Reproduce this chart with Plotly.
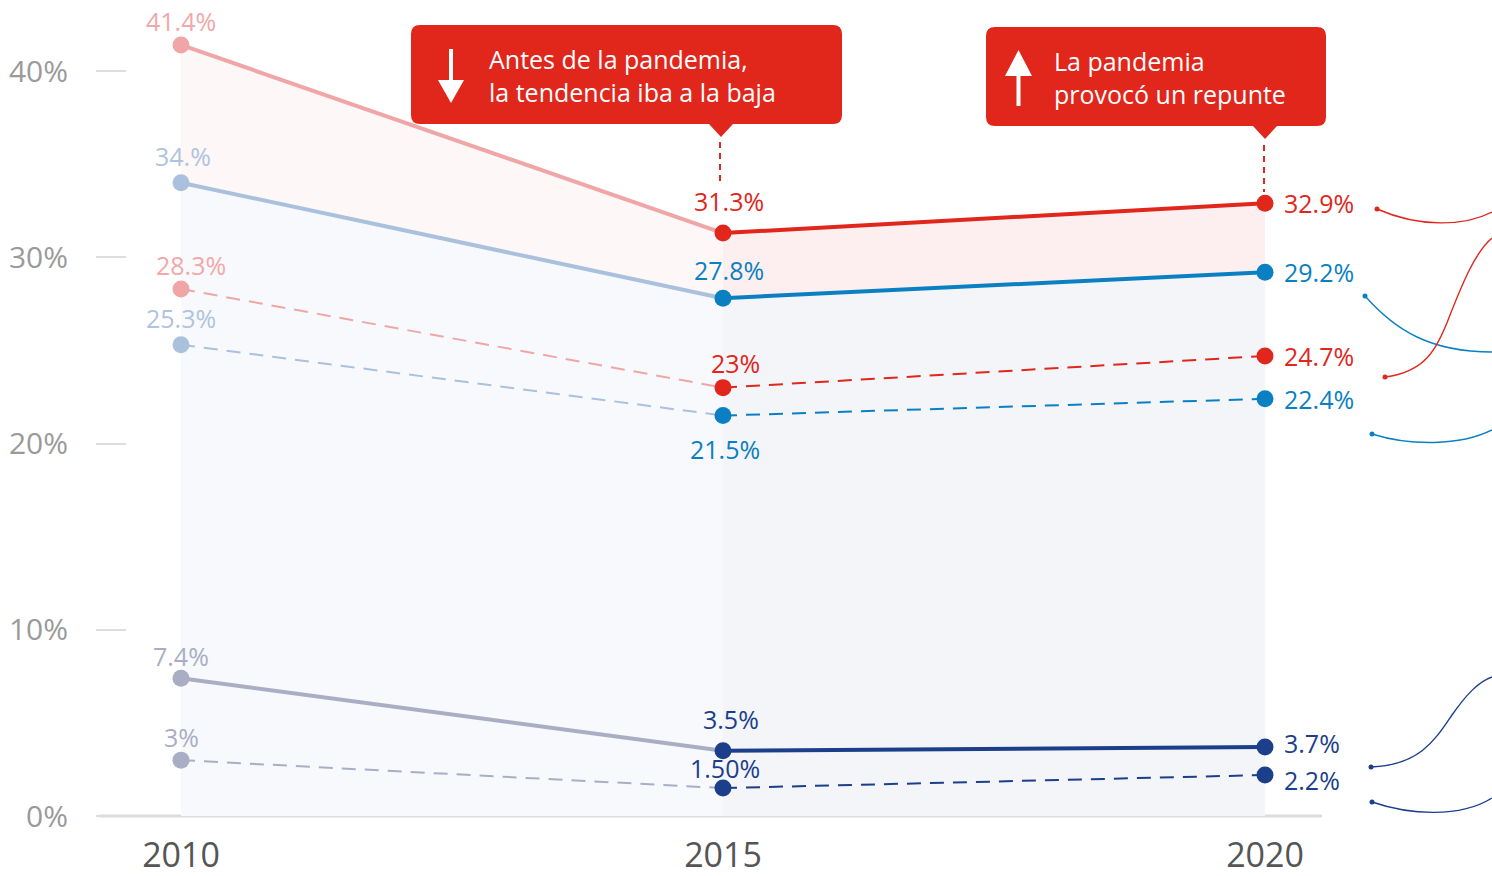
import plotly.graph_objects as go

# ---- data -------------------------------------------------------------
years = [2010, 2015, 2020]

rojo_total = [41.4, 31.3, 32.9]
azul_total = [34.0, 27.8, 29.2]
rojo_disc = [28.3, 23.0, 24.7]
azul_disc = [25.3, 21.5, 22.4]
oscuro_total = [7.4, 3.5, 3.7]
oscuro_disc = [3.0, 1.5, 2.2]

rojo_total_txt = ["41.4%", "31.3%", "32.9%"]
azul_total_txt = ["34.%", "27.8%", "29.2%"]
rojo_disc_txt = ["28.3%", "23%", "24.7%"]
azul_disc_txt = ["25.3%", "21.5%", "22.4%"]
oscuro_total_txt = ["7.4%", "3.5%", "3.7%"]
oscuro_disc_txt = ["3%", "1.50%", "2.2%"]

y_ticks = [0, 10, 20, 30, 40]
y_tick_txt = ["0%", "10%", "20%", "30%", "40%"]
x_tick_txt = ["2010", "2015", "2020"]

callout_1 = "Antes de la pandemia,<br>la tendencia iba a la baja"
callout_2 = "La pandemia<br>provocó un repunte"

# ---- style ------------------------------------------------------------
FONT = "Open Sans, Lato, sans-serif"
W, H = 1492, 876
M_L, M_B = 127, 60
PX_YEAR = 108.4          # pixels per year on the x axis
PX_PCT = 18.625          # pixels per percentage point
X_2010 = 181
PLOT_H = H - M_B
LBL = 25                 # value label font size

ROJO, ROJO_F = "#E1261C", "#F0A6A6"
AZUL, AZUL_F = "#0A80C3", "#AAC1DE"
OSC, OSC_F = "#1B3F8B", "#A9AEC5"

x_range = [2010 - (X_2010 - M_L) / PX_YEAR, 2010 + (W - X_2010) / PX_YEAR]
y_range = [0, PLOT_H / PX_PCT]


def dx(px):
    return 2010 + (px - X_2010) / PX_YEAR


def dy(py):
    return (PLOT_H - py) / PX_PCT


def path(cmds):
    out = []
    for c in cmds:
        if isinstance(c, str):
            out.append(c)
        else:
            out.append(f"{dx(c[0]):.5f},{dy(c[1]):.5f}")
    return " ".join(out)


fig = go.Figure()

# ---- shaded bands -----------------------------------------------------
bands = [
    (0, rojo_total, azul_total, "#FEF7F7"),
    (0, azul_total, None, "#F8F9FC"),
    (1, rojo_total, azul_total, "#FDEFEF"),
    (1, azul_total, None, "#F3F5F9"),
]
for i, top, bottom, col in bands:
    lo = bottom if bottom is not None else [0, 0, 0]
    fig.add_trace(go.Scatter(
        x=[years[i], years[i + 1], years[i + 1], years[i], years[i]],
        y=[top[i], top[i + 1], lo[i + 1], lo[i], top[i]],
        fill="toself", fillcolor=col, mode="none",
        hoverinfo="skip", showlegend=False))

# ---- lines ------------------------------------------------------------
series = [
    (rojo_total, ROJO, ROJO_F, "solid", 4),
    (azul_total, AZUL, AZUL_F, "solid", 4),
    (rojo_disc, ROJO, ROJO_F, "14px,9px", 2),
    (azul_disc, AZUL, AZUL_F, "14px,9px", 2),
    (oscuro_total, OSC, OSC_F, "solid", 4),
    (oscuro_disc, OSC, OSC_F, "14px,9px", 2),
]
for vals, col, col_f, dash, w in series:
    fig.add_trace(go.Scatter(
        x=years[:2], y=vals[:2], mode="lines",
        line=dict(color=col_f, width=w, dash=dash),
        hoverinfo="skip", showlegend=False))
    fig.add_trace(go.Scatter(
        x=years[1:], y=vals[1:], mode="lines",
        line=dict(color=col, width=w, dash=dash),
        hoverinfo="skip", showlegend=False))
for vals, col, col_f, dash, w in series:
    fig.add_trace(go.Scatter(
        x=years, y=vals, mode="markers",
        marker=dict(size=17, color=[col_f, col, col], line=dict(width=0)),
        hoverinfo="skip", showlegend=False))

# ---- value labels -----------------------------------------------------
# (values, texts, faded colour, full colour, 2010 shift, 2015 shift, 2020 shift)
labels = [
    (rojo_total, rojo_total_txt, "#F2A8A8", ROJO, (0, 24), (6, 32), 0),
    (azul_total, azul_total_txt, "#AFC4E0", AZUL, (2, 27), (6, 28), 0),
    (rojo_disc, rojo_disc_txt, "#F2A8A8", ROJO, (10, 24), (12, 25), 0),
    (azul_disc, azul_disc_txt, "#AFC4E0", AZUL, (0, 27), (2, -33), 0),
    (oscuro_total, oscuro_total_txt, "#A9AEC6", OSC, (0, 22), (8, 32), 4),
    (oscuro_disc, oscuro_disc_txt, "#A9AEC6", OSC, (0, 23), (2, 20), -5),
]
for vals, txts, c_f, c, s10, s15, s20 in labels:
    fig.add_annotation(x=years[0], y=vals[0], text=txts[0], showarrow=False,
                       xshift=s10[0], yshift=s10[1],
                       font=dict(family=FONT, size=LBL, color=c_f))
    fig.add_annotation(x=years[1], y=vals[1], text=txts[1], showarrow=False,
                       xshift=s15[0], yshift=s15[1],
                       font=dict(family=FONT, size=LBL, color=c))
    fig.add_annotation(x=years[2], y=vals[2], text=txts[2], showarrow=False,
                       xanchor="left", xshift=17, yshift=s20,
                       font=dict(family=FONT, size=LBL, color=c))

# ---- callouts ---------------------------------------------------------
def rounded_box(x0, y0, x1, y1, r, tip_x, tip_len):
    return path([
        "M", (x0 + r, y0), "L", (x1 - r, y0), "Q", (x1, y0), (x1 - 0.001, y0 + r),
        "L", (x1, y1 - r), "Q", (x1, y1), (x1 - r, y1),
        "L", (tip_x + 12, y1), "L", (tip_x, y1 + tip_len), "L", (tip_x - 12, y1),
        "L", (x0 + r, y1), "Q", (x0, y1), (x0, y1 - r),
        "L", (x0, y0 + r), "Q", (x0, y0), (x0 + r, y0), "Z"])


shapes = []
for (x0, y0, x1, y1, tip_x, v_top, v_bot) in [
        (411, 25, 842, 124, 721, 142, 186),
        (986, 27, 1326, 126, 1265, 145, 192)]:
    shapes.append(dict(type="path", path=rounded_box(x0, y0, x1, y1, 9, tip_x, 13),
                       xref="x", yref="y", fillcolor=ROJO, line=dict(width=0)))
    shapes.append(dict(type="line", xref="x", yref="y",
                       x0=dx(tip_x - 1), x1=dx(tip_x - 1), y0=dy(v_top), y1=dy(v_bot),
                       line=dict(color=ROJO, width=2, dash="6px,5px")))

# arrow icons
shapes.append(dict(type="line", xref="x", yref="y", x0=dx(451), x1=dx(451),
                   y0=dy(49), y1=dy(86), line=dict(color="white", width=4)))
shapes.append(dict(type="path", xref="x", yref="y",
                   path=path(["M", (438, 80), "L", (464, 80), "L", (451, 103), "Z"]),
                   fillcolor="white", line=dict(width=0)))
shapes.append(dict(type="line", xref="x", yref="y", x0=dx(1018.5), x1=dx(1018.5),
                   y0=dy(70), y1=dy(106), line=dict(color="white", width=4)))
shapes.append(dict(type="path", xref="x", yref="y",
                   path=path(["M", (1005, 76), "L", (1032, 76), "L", (1018.5, 50), "Z"]),
                   fillcolor="white", line=dict(width=0)))

for text, x_px, y_px in [(callout_1, 487, 75), (callout_2, 1052, 77)]:
    fig.add_annotation(x=dx(x_px), y=dy(y_px), text=text, showarrow=False,
                       xanchor="left", yanchor="middle", align="left",
                       font=dict(family=FONT, size=25, color="white"))

# ---- connector curves on the right ------------------------------------
connectors = [
    (ROJO, (1377, 209), ["C", (1420, 228), (1465, 226), (1492, 212)]),
    (AZUL, (1365, 296), ["C", (1395, 330), (1430, 352), (1492, 352)]),
    (ROJO, (1385, 377), ["C", (1425, 372), (1437, 350), (1450, 315),
                         "C", (1462, 285), (1475, 252), (1492, 238)]),
    (AZUL, (1372, 434), ["C", (1410, 446), (1460, 446), (1492, 430)]),
    (OSC, (1371, 767), ["C", (1420, 765), (1435, 740), (1452, 715),
                        "C", (1466, 695), (1478, 682), (1492, 677)]),
    (OSC, (1372, 802), ["C", (1410, 815), (1460, 818), (1492, 798)]),
]
for col, start, rest in connectors:
    shapes.append(dict(type="path", xref="x", yref="y",
                       path=path(["M", start] + rest),
                       line=dict(color=col, width=1.4)))
    shapes.append(dict(type="circle", xref="x", yref="y",
                       x0=dx(start[0] - 2.5), x1=dx(start[0] + 2.5),
                       y0=dy(start[1] + 2.5), y1=dy(start[1] - 2.5),
                       fillcolor=col, line=dict(width=0)))

# baseline
shapes.append(dict(type="line", xref="paper", yref="paper",
                   x0=(100 - M_L) / (W - M_L), x1=(1322 - M_L) / (W - M_L), y0=0, y1=0,
                   line=dict(color="#DCDCDC", width=3), layer="below"))

fig.update_layout(
    width=W, height=H, autosize=False,
    margin=dict(l=M_L, r=0, t=0, b=M_B, autoexpand=False),
    paper_bgcolor="white", plot_bgcolor="white",
    shapes=shapes,
    xaxis=dict(range=x_range, showgrid=False, zeroline=False, showline=False,
               tickvals=years, ticktext=x_tick_txt, ticks="", automargin=False,
               tickfont=dict(family=FONT, size=34, color="#555555"),
               ticklabelstandoff=16, fixedrange=True),
    yaxis=dict(range=y_range, showgrid=False, zeroline=False, showline=False,
               tickvals=y_ticks, ticktext=y_tick_txt, ticks="outside", automargin=False,
               ticklen=30, tickwidth=2, tickcolor="#DDDDDD",
               tickfont=dict(family=FONT, size=30, color="#9A9A9A"),
               ticklabelstandoff=22, fixedrange=True),
)

fig.write_html("out.html")
